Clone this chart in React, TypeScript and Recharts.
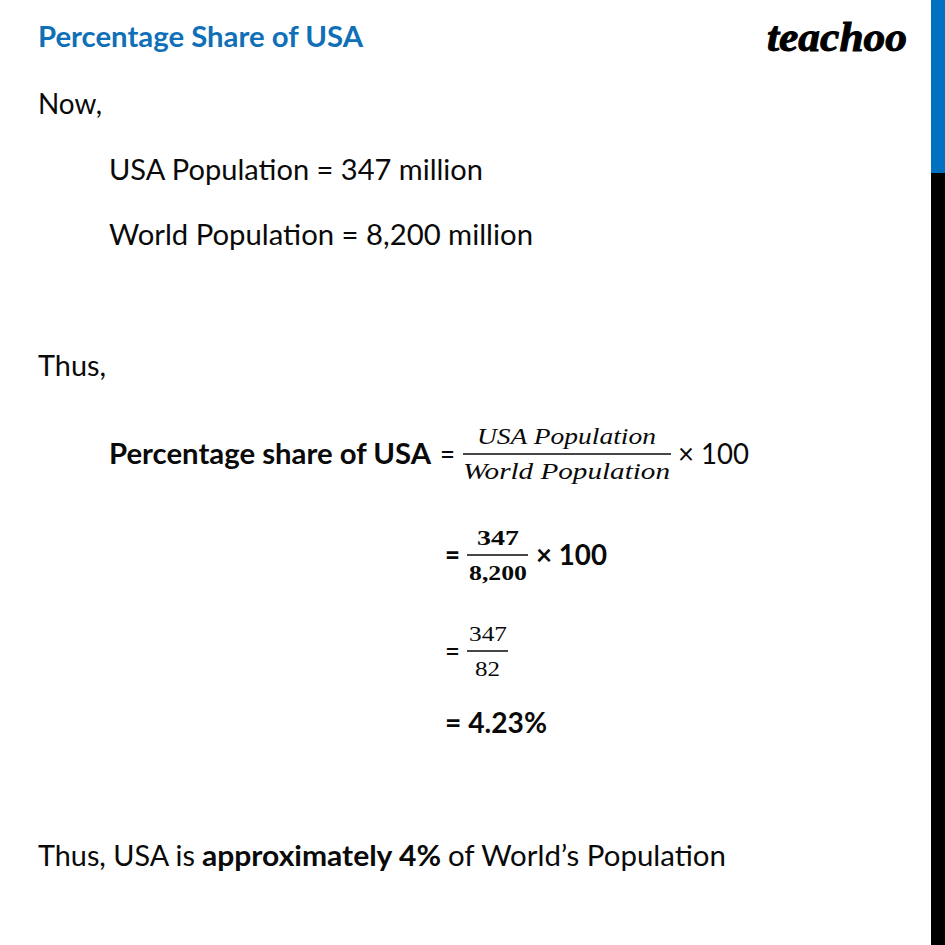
import React from "react";
import { BarChart, Bar, XAxis, YAxis } from "recharts";

// scrollbar on the right edge: blue thumb and black track, in pixels of page
const scrollParts = ["thumb", "track"];
const scrollValues = [173, 772];

const TITLE = "Percentage Share of USA";
const LOGO = "teachoo";
const INTRO = ["Now,", "USA Population = 347 million", "World Population = 8,200 million"];
const THUS = "Thus,";
const SHARE = ["Percentage share of USA", "=", "USA Population", "World Population", "× 100"];
const STEP_2 = ["=", "347", "8,200", "× 100"];
const STEP_3 = ["=", "347", "82"];
const RESULT = "= 4.23%";
const CLOSING = ["Thus, USA is", "approximately 4%", "of World’s Population"];

const row = { name: "scroll", [scrollParts[0]]: scrollValues[0], [scrollParts[1]]: scrollValues[1] };

const BODY = "Lato, Carlito, sans-serif";
const MATH = "'Liberation Serif', serif";
const BLUE = "#0f70b7";
const INK = "#0a0a0a";

type LineProps = {
  x: number;
  y: number;
  w: number;
  bold?: boolean;
  size?: number;
  math?: boolean;
  italic?: boolean;
  fill?: string;
  children: string;
};

const T = ({ x, y, w, bold, size = 29, math, italic, fill = INK, children }: LineProps) => (
  <text
    x={x}
    y={y}
    textLength={w}
    lengthAdjust="spacingAndGlyphs"
    fontFamily={math ? MATH : BODY}
    fontSize={size}
    fontWeight={bold ? 700 : 400}
    fontStyle={italic ? "italic" : "normal"}
    fill={fill}
  >
    {children}
  </text>
);

const Rule = ({ x1, x2, y }: { x1: number; x2: number; y: number }) => (
  <line x1={x1} x2={x2} y1={y} y2={y} stroke={INK} strokeWidth={1.6} />
);

export default function App() {
  return (
    <div style={{ position: "absolute", left: 0, top: 0, width: 945, height: 945, background: "#fff" }}>
      <BarChart
        width={945}
        height={945}
        data={[row]}
        margin={{ top: 0, right: 0, bottom: 0, left: 931 }}
        barCategoryGap={0}
      >
        <XAxis dataKey="name" hide />
        <YAxis hide reversed domain={[0, 945]} />
        <Bar dataKey={scrollParts[0]} stackId="s" fill="#0070c0" isAnimationActive={false} />
        <Bar dataKey={scrollParts[1]} stackId="s" fill="#000000" isAnimationActive={false} />

        <T x={38} y={47} w={325} bold size={28} fill={BLUE}>{TITLE}</T>
        <text
          x={767}
          y={51}
          textLength={140}
          lengthAdjust="spacingAndGlyphs"
          fontFamily={MATH}
          fontSize={42}
          fontWeight={700}
          fontStyle="italic"
          fill="#000"
          stroke="#000"
          strokeWidth={1}
        >
          {LOGO}
        </text>

        <T x={38} y={114} w={64}>{INTRO[0]}</T>
        <T x={109} y={180} w={374}>{INTRO[1]}</T>
        <T x={109} y={245} w={424}>{INTRO[2]}</T>
        <T x={38} y={376} w={68}>{THUS}</T>

        <T x={109} y={464} w={322} bold>{SHARE[0]}</T>
        <T x={440} y={464} w={15}>{SHARE[1]}</T>
        <T x={477} y={444} w={179} size={23} math italic>{SHARE[2]}</T>
        <Rule x1={463} x2={671} y={454} />
        <T x={463} y={479} w={207} size={23} math italic>{SHARE[3]}</T>
        <T x={678} y={464} w={71}>{SHARE[4]}</T>

        <T x={445} y={565} w={15} bold>{STEP_2[0]}</T>
        <T x={477} y={545} w={42} size={22} math bold>{STEP_2[1]}</T>
        <Rule x1={467} x2={528} y={555} />
        <T x={469} y={580} w={58} size={22} math bold>{STEP_2[2]}</T>
        <T x={536} y={565} w={71} bold>{STEP_2[3]}</T>

        <T x={445} y={661} w={15}>{STEP_3[0]}</T>
        <T x={469} y={641} w={38} size={21} math>{STEP_3[1]}</T>
        <Rule x1={467} x2={508} y={651} />
        <T x={475} y={676} w={25} size={21} math>{STEP_3[2]}</T>

        <T x={445} y={733} w={102} bold>{RESULT}</T>

        <T x={38} y={866} w={157}>{CLOSING[0]}</T>
        <T x={202} y={866} w={239} bold>{CLOSING[1]}</T>
        <T x={448} y={866} w={278}>{CLOSING[2]}</T>
      </BarChart>
    </div>
  );
}
